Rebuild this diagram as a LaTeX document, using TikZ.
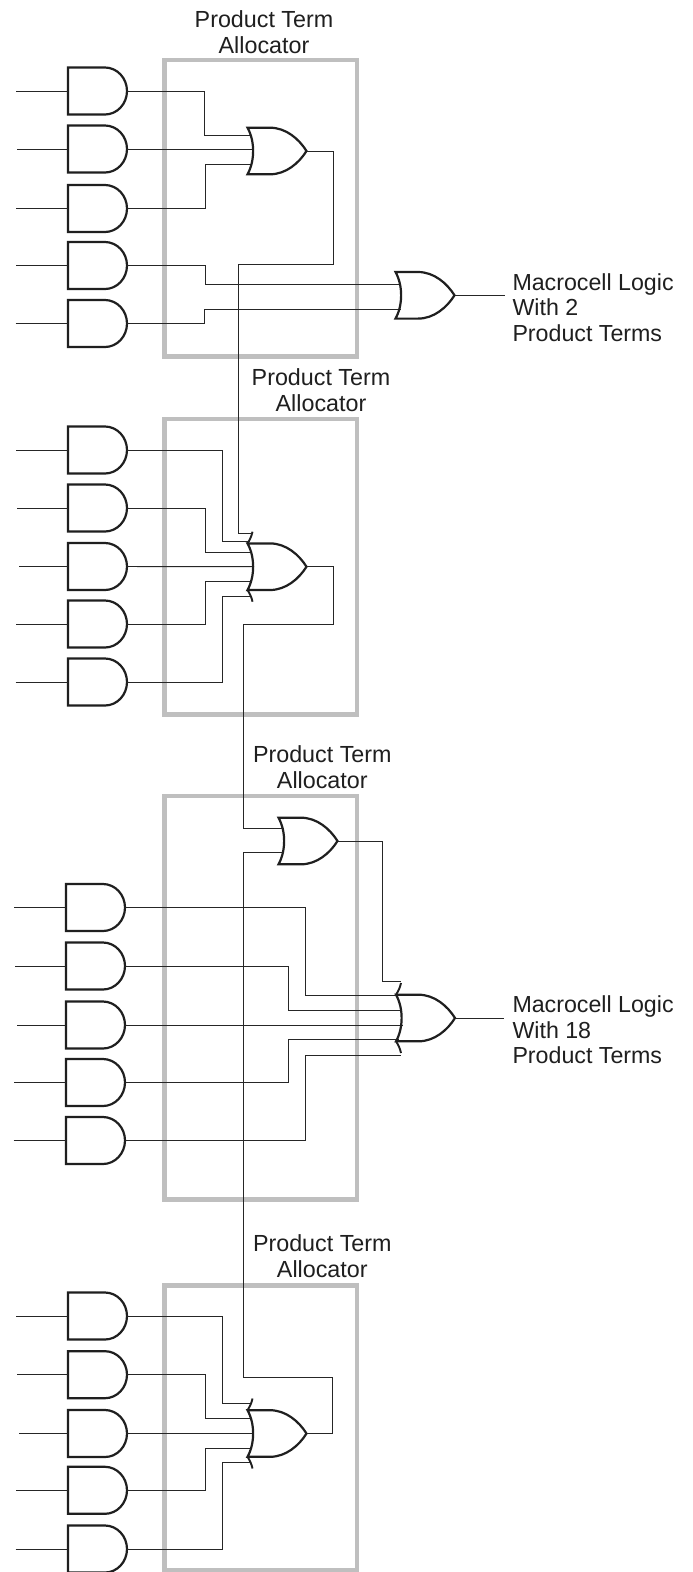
\documentclass[tikz,border=0pt]{standalone}
\usepackage{fontspec}
\setmainfont{Liberation Sans}
\definecolor{inkc}{gray}{0.12}
\definecolor{wirec}{gray}{0.15}
\definecolor{boxc}{gray}{0.75}
\tikzset{
  gatebox/.style={inner sep=0pt,outer sep=0pt,minimum width=59pt,minimum height=47pt,draw=none},
  gateline/.style={line width=2.2pt,draw=inkc,line join=miter},
  wire/.style={line width=0.95pt,draw=wirec,line join=miter},
  allocbox/.style={line width=4.5pt,draw=boxc},
  lab/.style={font=\fontsize{23.3}{26.3}\selectfont,text=inkc,align=center,inner sep=0pt},
  side/.style={font=\fontsize{23.2}{25.5}\selectfont,text=inkc,align=left,inner sep=0pt,anchor=north west}
}
% \andg{name}{centre x}{centre y}
\newcommand{\andg}[3]{%
  \node[gatebox] (#1) at (#2,#3) {};
  \draw[gateline] ([xshift=-29.5pt,yshift=23.5pt]#1.center) -- ([xshift=7.5pt,yshift=23.5pt]#1.center)
    .. controls ([xshift=19.5pt,yshift=23.5pt]#1.center) and ([xshift=29.5pt,yshift=13pt]#1.center) .. ([xshift=29.5pt]#1.center)
    .. controls ([xshift=29.5pt,yshift=-13pt]#1.center) and ([xshift=19.5pt,yshift=-23.5pt]#1.center) .. ([xshift=7.5pt,yshift=-23.5pt]#1.center)
    -- ([xshift=-29.5pt,yshift=-23.5pt]#1.center) -- cycle;}
% \org{name}{centre x}{centre y}
\newcommand{\org}[3]{%
  \node[gatebox] (#1) at (#2,#3) {};
  \draw[gateline] ([xshift=-29.5pt,yshift=23.3pt]#1.center) -- ([xshift=-7pt,yshift=23.3pt]#1.center)
    .. controls ([xshift=9pt,yshift=23.3pt]#1.center) and ([xshift=22pt,yshift=12pt]#1.center) .. ([xshift=29.5pt]#1.center)
    .. controls ([xshift=22pt,yshift=-12pt]#1.center) and ([xshift=9pt,yshift=-23.3pt]#1.center) .. ([xshift=-7pt,yshift=-23.3pt]#1.center)
    -- ([xshift=-29.5pt,yshift=-23.3pt]#1.center)
    .. controls ([xshift=-22pt,yshift=-10pt]#1.center) and ([xshift=-22pt,yshift=10pt]#1.center) .. ([xshift=-29.5pt,yshift=23.3pt]#1.center) -- cycle;}
% \wisps{name}
\newcommand{\wisps}[1]{%
  \draw[gateline,line width=1.9pt] ([xshift=-29.5pt,yshift=23.3pt]#1.center) .. controls ([xshift=-27.5pt,yshift=26.5pt]#1.center) and ([xshift=-25.5pt,yshift=30pt]#1.center) .. ([xshift=-24.5pt,yshift=35pt]#1.center);
  \draw[gateline,line width=1.9pt] ([xshift=-29.5pt,yshift=-23.3pt]#1.center) .. controls ([xshift=-27.5pt,yshift=-26.5pt]#1.center) and ([xshift=-25.5pt,yshift=-30pt]#1.center) .. ([xshift=-24.5pt,yshift=-35pt]#1.center);}
\begin{document}
\begin{tikzpicture}[x=1pt,y=-1pt]
\useasboundingbox (0,0) rectangle (693,1572);
\clip (0,0) rectangle (693,1572);
\fill[white] (0,0) rectangle (693,1572);
% allocator boxes
\draw[allocbox] (164.7,60) rectangle (357.2,356.5);
\draw[allocbox] (164.7,419) rectangle (357.2,714.5);
\draw[allocbox] (164.7,796) rectangle (357.2,1199.5);
\draw[allocbox] (164.7,1285.3) rectangle (357.2,1570.3);
% labels
\node[lab] (t1) at (264,32) {Product Term\\Allocator};
\node[lab] (t2) at (321,390.5) {Product Term\\Allocator};
\node[lab] (t3) at (322.3,767.2) {Product Term\\Allocator};
\node[lab] (t4) at (322.3,1256) {Product Term\\Allocator};
\node[side] (m1) at (512.3,273.3) {Macrocell Logic\\With 2\\Product Terms};
\node[side] (m2) at (512.3,995.7) {Macrocell Logic\\With 18\\Product Terms};
% input stubs
\coordinate (p11) at (16,91); \coordinate (p12) at (17,149); \coordinate (p13) at (16,208.5); \coordinate (p14) at (16,265.5); \coordinate (p15) at (15.5,323.5);
\coordinate (p21) at (16,450); \coordinate (p22) at (17,508); \coordinate (p23) at (19,566.5); \coordinate (p24) at (16,624); \coordinate (p25) at (15.5,682);
\coordinate (p31) at (14,907.5); \coordinate (p32) at (15,966); \coordinate (p33) at (17,1025); \coordinate (p34) at (14,1082.5); \coordinate (p35) at (13.5,1140.5);
\coordinate (p41) at (16,1316); \coordinate (p42) at (17,1374.7); \coordinate (p43) at (19,1433.5); \coordinate (p44) at (16,1490.3); \coordinate (p45) at (15.5,1549);
% gates: section 1
\andg{a11}{97.5}{91}\andg{a12}{97.5}{149}\andg{a13}{97.5}{208.5}\andg{a14}{97.5}{265.5}\andg{a15}{97.5}{323.5}
% section 2
\andg{a21}{97.5}{450}\andg{a22}{97.5}{508}\andg{a23}{97.5}{566.5}\andg{a24}{97.5}{624}\andg{a25}{97.5}{682}
% section 3
\andg{a31}{95.5}{907.5}\andg{a32}{95.5}{966}\andg{a33}{95.5}{1025}\andg{a34}{95.5}{1082.5}\andg{a35}{95.5}{1140.5}
% section 4
\andg{a41}{97.5}{1316}\andg{a42}{97.5}{1374.7}\andg{a43}{97.5}{1433.5}\andg{a44}{97.5}{1490.3}\andg{a45}{97.5}{1549}
% OR gate input points
\coordinate (o1i1) at (252,135.7); \coordinate (o1i2) at (254,149); \coordinate (o1i3) at (252,164.3);
\coordinate (o2i1) at (252,533.7); \coordinate (o2i2) at (250,541); \coordinate (o2i3) at (252,552); \coordinate (o2i4) at (254,566.7); \coordinate (o2i5) at (252,581.7); \coordinate (o2i6) at (250,596.7);
\coordinate (o3i1) at (284,828.7); \coordinate (o3i2) at (284,852);
\coordinate (o4i1) at (401,981.3); \coordinate (o4i2) at (397,995.3); \coordinate (o4i3) at (401,1010); \coordinate (o4i4) at (403,1025); \coordinate (o4i5) at (399,1039.7); \coordinate (o4i6) at (401,1055);
\coordinate (o5i1) at (251,1403.7); \coordinate (o5i2) at (252,1418.3); \coordinate (o5i3) at (254,1433.5); \coordinate (o5i4) at (252,1448.3); \coordinate (o5i5) at (251,1462.7);
\coordinate (m1i1) at (401,284.2); \coordinate (m1i2) at (401,309);
\coordinate (m1o) at (505,295.3); \coordinate (m2o) at (504.3,1018);
% input wires
\foreach \s in {1,2,3,4}{\foreach \k in {1,2,3,4,5}{\draw[wire] (p\s\k) -- (a\s\k.west);}}
% section 1 wires
\draw[wire] (a11.east) -- (204,91) -- (204,135.7) -- (o1i1);
\draw[wire] (a12.east) -- (o1i2);
\draw[wire] (a13.east) -- (205,208.5) -- (205,164.3) -- (o1i3);
\draw[wire] (a14.east) -- (205,265.5) -- (205,284.2) -- (m1i1);
\draw[wire] (a15.east) -- (204,323.5) -- (204,309) -- (m1i2);
% section 2 wires
\draw[wire] (a21.east) -- (222.7,450) -- (222.7,541) -- (o2i2);
\draw[wire] (a22.east) -- (205,508) -- (205,552) -- (o2i3);
\draw[wire] (a23.east) -- (o2i4);
\draw[wire] (a24.east) -- (205,624) -- (205,581.7) -- (o2i5);
\draw[wire] (a25.east) -- (222.7,682) -- (222.7,596.7) -- (o2i6);
% section 3 wires
\draw[wire] (a31.east) -- (305.7,907.5) -- (305.7,995.3) -- (o4i2);
\draw[wire] (a32.east) -- (288,966) -- (288,1010) -- (o4i3);
\draw[wire] (a33.east) -- (o4i4);
\draw[wire] (a34.east) -- (288,1082.5) -- (288,1039.7) -- (o4i5);
\draw[wire] (a35.east) -- (305.7,1140.5) -- (305.7,1055) -- (o4i6);
% section 4 wires
\draw[wire] (a41.east) -- (222.7,1316) -- (222.7,1403.7) -- (o5i1);
\draw[wire] (a42.east) -- (205,1374.7) -- (205,1418.3) -- (o5i2);
\draw[wire] (a43.east) -- (o5i3);
\draw[wire] (a44.east) -- (205,1490.3) -- (205,1448.3) -- (o5i4);
\draw[wire] (a45.east) -- (222.7,1549) -- (222.7,1462.7) -- (o5i5);
% OR gates drawn
\org{o1}{277}{151}
\org{o2}{277}{566.7}\wisps{o2}
\org{o3}{308}{841}
\org{o4}{425.5}{1018}\wisps{o4}
\org{o5}{277}{1433.5}\wisps{o5}
\org{om}{425}{295.3}
% cascades
\draw[wire] (o1.east) -- (333.5,151) -- (333.5,264.5) -- (238,264.5) -- (238,533.7) -- (o2i1);
\draw[wire] (o2.east) -- (333.5,566.7) -- (333.5,624) -- (243.5,624) -- (243.5,828.7) -- (o3i1);
\draw[wire] (o5.east) -- (332.5,1433.5) -- (332.5,1377.3) -- (243.5,1377.3) -- (243.5,852) -- (o3i2);
\draw[wire] (o3.east) -- (382.7,841) -- (382.7,981.3) -- (o4i1);
\draw[wire] (om.east) -- (m1o);
\draw[wire] (o4.east) -- (m2o);
\end{tikzpicture}
\end{document}
